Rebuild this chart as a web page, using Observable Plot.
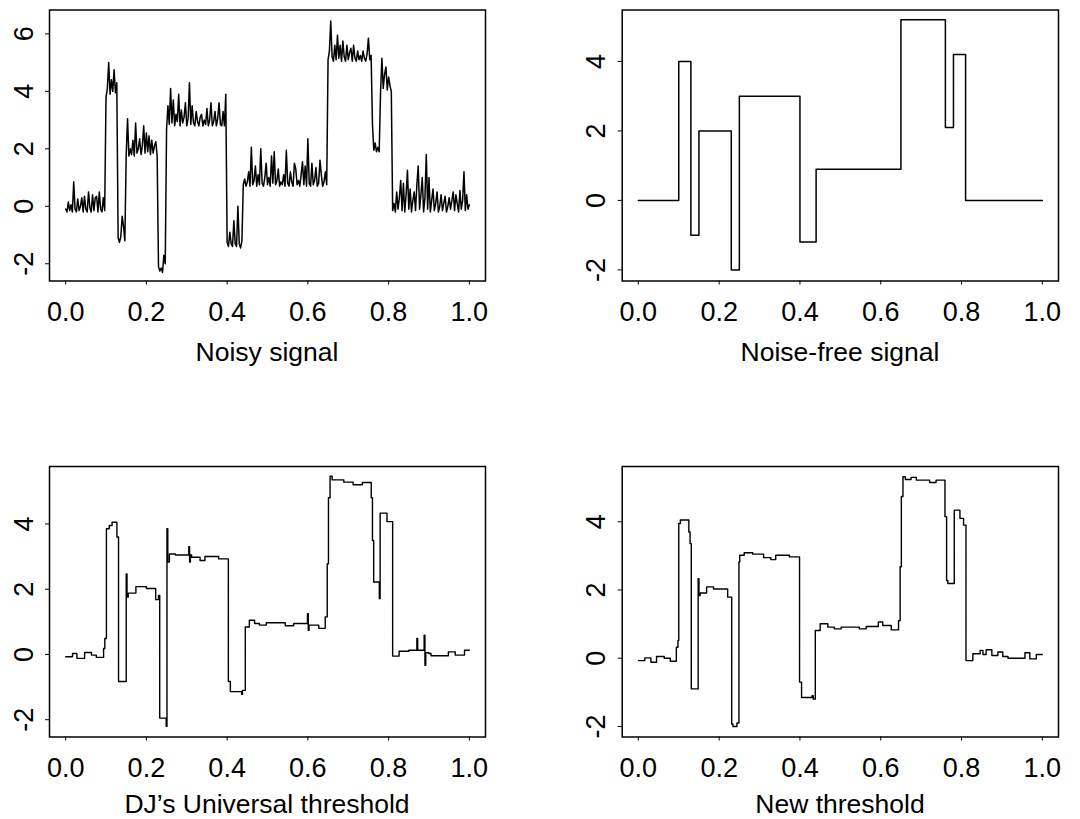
<!DOCTYPE html>
<html><head><meta charset="utf-8">
<script src="https://cdn.jsdelivr.net/npm/d3@7"></script>
<script src="https://cdn.jsdelivr.net/npm/@observablehq/plot@0.6"></script>
<style>
html,body{margin:0;padding:0;background:#fff;overflow:hidden;}
#wrap{position:relative;width:1080px;height:819px;font-family:"Liberation Sans",Arial,Helvetica,sans-serif;color:#000;background:#fff;}
.panel{position:absolute;}
.title{position:absolute;font-size:26.5px;line-height:20px;white-space:nowrap;transform:translateX(-50%);}
</style></head><body><div id="wrap"></div>
<script>
// ---- data ----
const xTickValues = [0, 0.2, 0.4, 0.6, 0.8, 1.0];
const titles = ["Noisy signal", "Noise-free signal", "DJ\u2019s Universal threshold", "New threshold"];

// Noisy signal, equally spaced samples on [0, 1]
const noisyY = [
  -0.1,-0.2,0.15,-0.15,0.05,-0.2,0.85,-0.1,-0.2,0.25,-0.15,0.0,0.3,-0.2,0.35,-0.1,-0.2,0.5,-0.05,-0.2,0.4,-0.15,0.3,0.35,-0.2,0.5,-0.1,-0.2,0.3,-0.15,
  3.8,4.1,5.0,3.9,4.4,4.0,4.75,3.95,4.3,
  -1.1,-1.25,-1.05,-0.35,-0.7,-1.2,
  1.8,3.05,1.75,2.0,1.8,2.3,1.75,2.9,1.85,2.0,2.35,1.8,2.1,2.8,1.85,2.55,1.9,2.45,1.8,2.3,1.85,2.1,2.25,1.75,
  -2.1,-2.25,-2.15,-2.3,-1.7,-2.0,
  2.7,3.5,2.85,4.1,2.9,3.7,2.8,3.2,2.95,3.9,2.8,3.35,2.9,3.1,3.6,2.8,3.05,4.3,2.85,3.5,2.9,2.8,3.3,2.95,2.8,3.1,3.2,2.8,3.0,2.85,3.4,2.8,3.0,3.6,2.8,2.95,3.3,2.8,3.05,3.6,2.85,2.8,3.3,2.8,3.9,
  -1.25,-1.4,-0.9,-1.3,-1.4,-0.5,-1.3,-1.4,0.0,-1.3,-1.45,-1.2,
  0.75,0.95,0.7,0.85,1.2,0.7,2.05,0.75,0.9,1.4,0.7,1.1,0.75,2.0,0.8,0.7,1.0,1.5,0.75,1.0,0.7,1.75,0.8,1.9,0.75,0.9,1.3,0.7,0.85,0.75,1.1,0.7,1.95,0.8,0.7,1.2,0.85,0.7,1.5,1.3,0.75,0.9,0.7,1.1,1.55,0.75,1.4,0.7,2.35,0.8,0.7,1.5,0.75,0.9,1.35,0.7,0.8,1.6,1.1,0.7,0.85,1.2,0.75,
  5.1,5.4,6.45,5.2,5.05,5.6,5.1,5.95,5.15,5.6,5.05,5.75,5.2,5.05,5.6,5.1,5.35,5.5,5.05,5.6,5.15,5.05,5.4,5.1,5.25,5.05,5.4,5.15,5.05,5.3,5.85,5.1,5.25,
  2.85,1.95,2.2,1.9,2.05,1.9,
  3.95,5.15,4.1,4.6,4.85,4.05,4.5,4.2,4.0,
  -0.15,0.1,-0.2,0.5,-0.1,0.3,0.9,-0.15,0.8,-0.2,0.4,1.25,-0.1,0.6,-0.2,0.2,0.5,-0.15,0.75,1.4,-0.1,0.4,1.0,-0.2,0.3,1.8,-0.1,1.0,-0.2,0.2,0.6,-0.15,0.1,0.5,-0.2,0.0,0.4,-0.15,0.1,0.35,-0.2,0.0,0.3,-0.1,0.2,0.5,-0.15,0.4,0.1,-0.2,0.55,-0.1,0.2,1.2,-0.15,0.4,-0.1,0.05
];

// Noise-free signal: breakpoints and levels (step)
const blockX = [0, 0.10, 0.13, 0.15, 0.23, 0.25, 0.40, 0.44, 0.65, 0.76, 0.78, 0.81, 1.0];
const blockY = [0, 4.0, -1.0, 2.0, -2.0, 3.0, -1.2, 0.9, 5.2, 2.1, 4.2, 0.0, 0.0];

// DJ's Universal threshold reconstruction: breakpoints and levels (step)
const djX = [0,0.017,0.028,0.047,0.064,0.076,0.094,0.097,0.101,0.108,0.115,0.127,0.131,0.150,0.152,0.155,0.174,0.2,0.223,0.23,0.233,0.249,0.251,0.253,0.257,0.272,0.305,0.307,0.309,0.312,0.333,0.345,0.379,0.403,0.408,0.436,0.438,0.445,0.455,0.468,0.48,0.497,0.544,0.565,0.599,0.601,0.603,0.627,0.643,0.648,0.651,0.655,0.66,0.689,0.712,0.735,0.757,0.76,0.763,0.777,0.779,0.796,0.81,0.826,0.85,0.87,0.872,0.888,0.89,0.892,0.9,0.905,0.948,0.965,0.988,1.0];
const djY = [-0.07,0.03,-0.12,0.06,-0.02,-0.09,0.18,0.49,3.85,3.95,4.05,3.6,-0.83,2.47,1.76,1.88,2.08,2.02,1.68,1.81,-1.95,-2.2,3.85,2.83,3.08,3.05,3.3,2.83,3.05,2.98,2.88,3.0,2.93,-0.83,-1.14,-1.22,-1.1,0.84,1.05,0.95,0.9,0.97,0.88,0.95,1.25,0.74,0.9,0.8,1.15,2.78,4.8,5.46,5.35,5.28,5.2,5.27,4.8,3.49,2.22,1.71,4.33,4.07,-0.05,0.1,0.13,0.49,0.13,0.59,-0.33,0.05,0.03,-0.04,0.08,-0.02,0.13,0.13];

// New threshold reconstruction: breakpoints and levels (step)
const newX = [0,0.016,0.031,0.045,0.064,0.079,0.094,0.098,0.1,0.104,0.125,0.128,0.131,0.148,0.150,0.153,0.169,0.186,0.221,0.231,0.234,0.244,0.249,0.251,0.262,0.283,0.31,0.328,0.34,0.374,0.399,0.404,0.43,0.433,0.438,0.45,0.469,0.485,0.502,0.547,0.564,0.594,0.605,0.626,0.644,0.648,0.651,0.655,0.661,0.675,0.688,0.721,0.737,0.759,0.763,0.766,0.782,0.796,0.805,0.811,0.828,0.846,0.853,0.861,0.875,0.89,0.902,0.915,0.957,0.969,0.985,1.0];
const newY = [-0.07,0.01,-0.12,0.05,0.0,-0.09,0.32,0.52,3.95,4.05,3.7,3.36,-0.9,2.33,1.84,1.91,2.09,2.03,1.79,-1.93,-2.0,-1.9,2.82,3.02,3.09,3.05,2.95,2.89,3.02,2.97,-0.7,-1.15,-1.1,-1.2,0.81,1.01,0.91,0.86,0.91,0.86,0.93,1.06,0.96,0.83,1.1,2.68,4.74,5.32,5.24,5.3,5.22,5.15,5.22,4.15,2.28,2.19,4.34,4.1,3.9,-0.07,0.13,0.23,0.11,0.25,0.08,0.18,0.05,0.0,0.16,-0.02,0.11,0.11];

const toPts = (xs, ys) => xs.map((x, i) => ({x, y: ys[i]}));

// ---- layout ----
const FONT = '"Liberation Sans", Arial, Helvetica, sans-serif';
const panels = [
  {left: 0,   top: 0,   width: 540, height: 327, mL: 49,   mR: 55, mT: 9.5, mB: 46.5, yDomain: [-2.6, 6.83], yTicks: [-2,0,2,4,6],
   titleTop: 342, titleX: 267,
   mark: () => Plot.line(noisyY, {x: (d, i) => i / (noisyY.length - 1), y: d => d, stroke: "#000", strokeWidth: 1.5})},
  {left: 540, top: 0,   width: 540, height: 327, mL: 81.7, mR: 22, mT: 9.5, mB: 46.5, yDomain: [-2.32, 5.48], yTicks: [-2,0,2,4],
   titleTop: 342, titleX: 840,
   mark: () => Plot.line(toPts(blockX, blockY), {x: "x", y: "y", curve: "step-after", stroke: "#000", strokeWidth: 1.5})},
  {left: 0,   top: 440, width: 540, height: 343, mL: 49,   mR: 55, mT: 26,  mB: 46.5, yDomain: [-2.53, 5.76], yTicks: [-2,0,2,4],
   titleTop: 793.5, titleX: 267,
   mark: () => Plot.line(toPts(djX, djY), {x: "x", y: "y", curve: "step-after", stroke: "#000", strokeWidth: 1.4})},
  {left: 540, top: 440, width: 540, height: 343, mL: 81.7, mR: 22, mT: 26,  mB: 46.5, yDomain: [-2.31, 5.62], yTicks: [-2,0,2,4],
   titleTop: 793.5, titleX: 840,
   mark: () => Plot.line(toPts(newX, newY), {x: "x", y: "y", curve: "step-after", stroke: "#000", strokeWidth: 1.4})}
];

const wrap = document.getElementById("wrap");
panels.forEach((p, k) => {
  const svg = Plot.plot({
    width: p.width, height: p.height,
    marginLeft: p.mL, marginRight: p.mR, marginTop: p.mT, marginBottom: p.mB,
    x: {domain: [-0.04, 1.04]},
    y: {domain: p.yDomain},
    style: {fontFamily: FONT, fontSize: "27px", color: "#000", background: "transparent", overflow: "visible"},
    marks: [
      p.mark(),
      Plot.frame({stroke: "#000", strokeWidth: 1.5}),
      Plot.axisX({ticks: xTickValues, tickSize: 4, tickPadding: 17, tickFormat: d3.format(".1f"), label: null, stroke: "#000", fill: "#000"}),
      Plot.axisY({ticks: p.yTicks, tickSize: 4, tickPadding: 13, tickRotate: -90, tickFormat: d => String(d), label: null, stroke: "#000", fill: "#000"})
    ]
  });
  const div = document.createElement("div");
  div.className = "panel";
  div.style.left = p.left + "px";
  div.style.top = p.top + "px";
  div.appendChild(svg);
  wrap.appendChild(div);

  const t = document.createElement("div");
  t.className = "title";
  t.style.left = p.titleX + "px";
  t.style.top = p.titleTop + "px";
  t.textContent = titles[k];
  wrap.appendChild(t);
});
</script></body></html>
